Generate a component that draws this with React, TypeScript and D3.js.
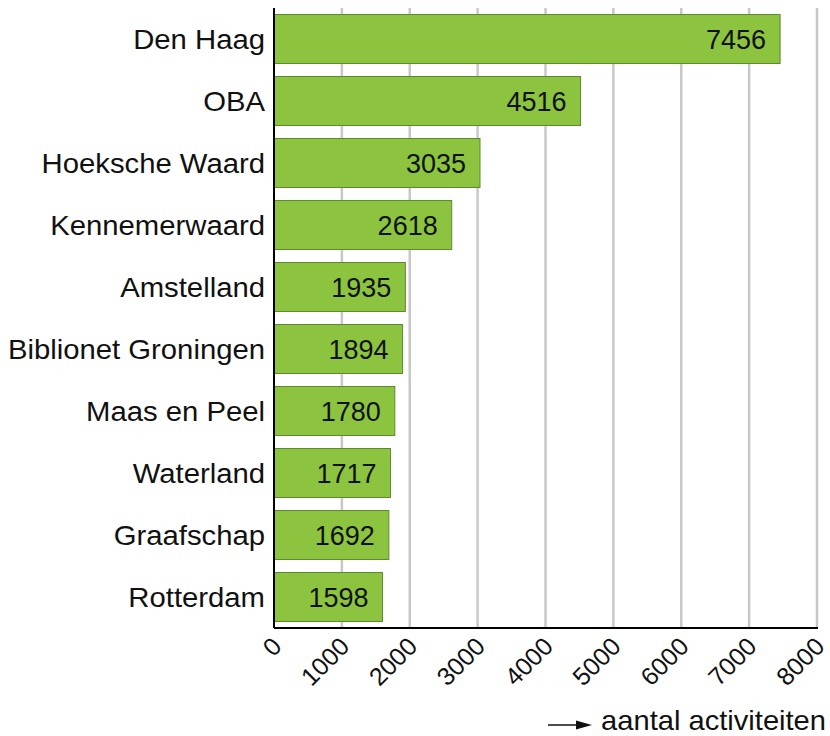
import React from "react";
import * as d3 from "d3";

const categories = ["Den Haag", "OBA", "Hoeksche Waard", "Kennemerwaard", "Amstelland", "Biblionet Groningen", "Maas en Peel", "Waterland", "Graafschap", "Rotterdam"];
const values = [7456, 4516, 3035, 2618, 1935, 1894, 1780, 1717, 1692, 1598];
const ticks = [0, 1000, 2000, 3000, 4000, 5000, 6000, 7000, 8000];
const axisLabel = "aantal activiteiten";

export default function App() {
  const W = 830, H = 736;
  const x0 = 274, x1 = 817, yTop = 8, yBot = 628;
  const x = d3.scaleLinear().domain([0, 8000]).range([x0, x1]);
  const y = d3.scaleBand<string>().domain(categories).range([yTop, yBot]).paddingInner(0.21).paddingOuter(0.105);
  const font = "Liberation Sans, Arial, sans-serif";
  return (
    <svg width={W} height={H} style={{ position: "absolute", left: 0, top: 0 }} fontFamily={font}>
      <rect width={W} height={H} fill="#fff" />
      {ticks.filter(t => t > 0).map(t => (
        <line key={t} x1={x(t)} x2={x(t)} y1={yTop} y2={yBot} stroke="#c8c8c8" strokeWidth={2.5} />
      ))}
      {categories.map((c, i) => {
        const cy = (y(c) as number) + y.bandwidth() / 2;
        return (
          <g key={c}>
            <rect x={x(0)} y={y(c)} width={x(values[i]) - x(0)} height={y.bandwidth()} fill="#8cc43f" stroke="#5d8a2f" strokeWidth={1} />
            <text x={x(values[i]) - 14} y={cy} dy="0.36em" textAnchor="end" fontSize={27} fill="#111">{values[i]}</text>
            <g transform={`translate(${x0 - 9},${cy}) scale(1.065,1)`}>
              <text x={0} y={0} dy="0.36em" textAnchor="end" fontSize={27.5} fill="#111">{c}</text>
            </g>
          </g>
        );
      })}
      <line x1={x0} x2={x0} y1={yTop} y2={yBot} stroke="#000" strokeWidth={2} />
      <line x1={x0} x2={x1 + 1} y1={yBot} y2={yBot} stroke="#000" strokeWidth={2} />
      {ticks.map(t => (
        <text key={t} transform={`translate(${x(t) + 9},${yBot + 20}) rotate(-45)`} textAnchor="end" fontSize={25} fill="#111">{t}</text>
      ))}
      <line x1={548} x2={580} y1={725} y2={725} stroke="#111" strokeWidth={1.5} />
      <path d="M 592 725 L 576 720.5 L 576 729.5 Z" fill="#111" />
      <g transform="translate(826,730) scale(1.04,1)">
        <text x={0} y={0} textAnchor="end" fontSize={28} fill="#111">{axisLabel}</text>
      </g>
    </svg>
  );
}
